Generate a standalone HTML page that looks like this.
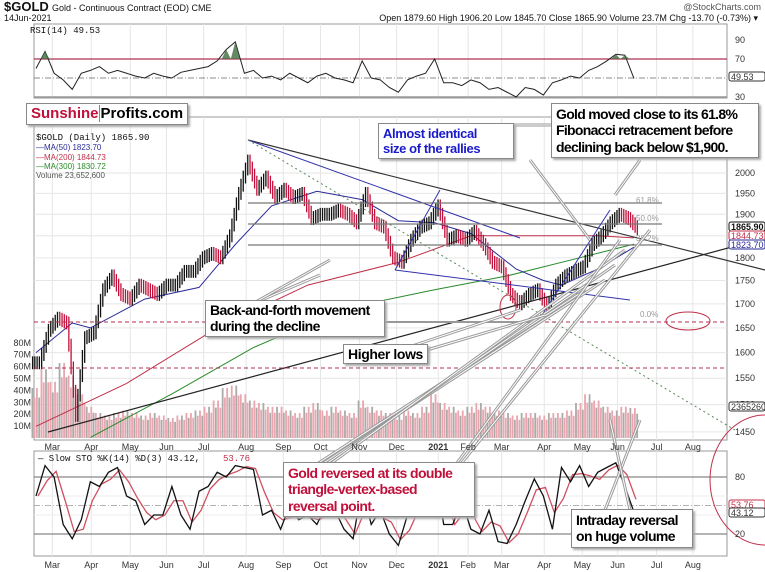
<!DOCTYPE html>
<html><head><meta charset="utf-8">
<style>
body{margin:0;background:#fff;width:765px;height:572px;overflow:hidden;font-family:"Liberation Sans",sans-serif}
svg{display:block}
.box{position:absolute;background:#fff;border:1px solid #888;box-shadow:2px 2px 2px #aaa;font-weight:bold;line-height:1.17;white-space:nowrap;letter-spacing:-0.4px}
</style></head><body>
<svg id="c" width="765" height="572" style="position:absolute;left:0;top:0">
<g id="grid"></g><g id="marks"></g><g id="anno"></g><g id="labels"></g>
</svg>
<div class="box" style="left:26px;top:103px;padding:1px 4px;font-size:15px;letter-spacing:0"><span style="color:#c0103a">Sunshine</span><span style="border-left:1px solid #888;padding-left:1px">Profits.com</span></div>
<div class="box" style="left:378px;top:123px;width:126px;padding:2px 4px;font-size:13px;color:#1a1acc">Almost identical<br>size of the rallies</div>
<div class="box" style="left:551px;top:103px;width:198px;padding:2px 4px;font-size:14px;letter-spacing:-0.7px">Gold moved close to its 61.8%<br>Fibonacci retracement before<br>declining back below $1,900.</div>
<div class="box" style="left:205px;top:300px;width:170px;padding:1px 4px;font-size:14px;letter-spacing:-0.6px">Back-and-forth movement<br>during the decline</div>
<div class="box" style="left:343px;top:344px;padding:1px 4px;font-size:14px">Higher lows</div>
<div class="box" style="left:283px;top:462px;width:182px;padding:2px 4px;font-size:14px;color:#c0103a;letter-spacing:-0.6px">Gold reversed at its double<br>triangle-vertex-based<br>reversal point.</div>
<div class="box" style="left:571px;top:509px;width:112px;padding:2px 4px;font-size:14px;letter-spacing:-0.6px">Intraday reversal<br>on huge volume</div>
<script>
const closes=[1580,1645,1670,1660,1480,1630,1640,1730,1760,1720,1710,1740,1730,1720,1740,1740,1770,1770,1800,1810,1800,1850,1950,2030,1960,1990,1940,1960,1940,1950,1890,1900,1900,1910,1900,1880,1950,1880,1870,1800,1790,1840,1870,1880,1920,1840,1850,1840,1860,1830,1790,1780,1720,1700,1720,1730,1690,1740,1760,1770,1780,1830,1850,1880,1900,1890,1865.9];
const volumes=[40,55,45,60,50,35,25,20,18,20,22,20,18,20,18,16,18,20,22,25,30,40,42,35,30,28,25,25,22,20,25,28,22,25,22,20,30,25,22,20,18,22,20,25,35,28,25,22,25,28,25,22,20,18,20,20,18,20,20,22,28,35,30,25,22,25,24];
const rsi=[60,78,55,48,38,55,58,62,55,58,55,52,50,55,52,50,56,58,60,62,68,80,88,55,58,50,52,48,55,50,45,52,55,50,48,45,68,50,48,40,35,48,52,55,70,45,45,42,48,45,38,40,35,30,40,38,32,45,48,52,50,58,62,68,75,74,49.5];
const stoK=[60,92,80,30,15,35,75,70,85,90,60,55,30,40,40,70,40,25,65,70,85,80,92,90,88,40,45,25,50,35,40,30,50,45,25,15,70,30,45,20,8,40,50,70,90,30,30,55,25,20,45,12,10,30,55,78,60,25,90,75,92,70,85,90,95,70,43];
const ma50W=[0,4,6,12,18,22,26,31,36,40,44,48,53,56,58,62,66];
const ma50V=[1600,1660,1650,1710,1735,1830,1920,1955,1935,1885,1880,1855,1775,1750,1740,1775,1824];
const ma200W=[0,10,20,30,40,48,56,62,66];
const ma200V=[1460,1540,1650,1740,1790,1850,1850,1850,1845];
const ma300W=[6,15,24,34,44,52,60,66];
const ma300V=[1440,1520,1610,1690,1730,1760,1800,1831];
const monthLabels=["Mar","Apr","May","Jun","Jul","Aug","Sep","Oct","Nov","Dec","2021","Feb","Mar","Apr","May","Jun","Jul","Aug"];
const monthWeeks=[1.8,6.1,10.4,14.4,18.5,23.2,27.3,31.4,35.7,39.8,44.4,47.7,51.4,56.1,60.3,64.2,68.5,72.5];
const priceTicks=[2000,1950,1900,1850,1800,1750,1700,1650,1600,1550,1500,1450];
const volTicks=[10,20,30,40,50,60,70,80];
const rsiTicks=[90,70,30];
const stoTicks=[80,20];

const NS="http://www.w3.org/2000/svg";
const X=w=>36+w*9.06;
const PY=p=>173+805*Math.log(2000/p);
const VY=v=>438-v*1.19;
const RY=r=>40+(90-r)*0.95;
const SY=s=>553-s*0.95;
const L=34,R=727;
function mk(parent,tag,attrs,text){const e=document.createElementNS(NS,tag);for(const k in attrs)e.setAttribute(k,attrs[k]);if(text!==undefined)e.textContent=text;document.getElementById(parent).appendChild(e);return e;}
function line(p,x1,y1,x2,y2,st,w,da){return mk(p,'line',{x1,y1,x2,y2,stroke:st,'stroke-width':w||1,'stroke-dasharray':da||'none'});}
function pts(ws,vs,f){return ws.map((w,i)=>X(w).toFixed(1)+','+f(vs[i]).toFixed(1)).join(' ');}

const panels=[[24,98,'rsi-panel'],[117,440,'price-panel'],[451,556,'stochastic-panel']];
panels.forEach(p=>{const r=mk('grid','rect',{x:L,y:p[0],width:R-L,height:p[1]-p[0],fill:'#fff',stroke:'#999'});

});
monthWeeks.forEach(w=>{[[24,98],[117,440],[451,556]].forEach(p=>line('grid',X(w),p[0],X(w),p[1],'#e6e6e6'));});
priceTicks.forEach(t=>line('grid',L,PY(t),R,PY(t),'#e6e6e6'));
[40,60,80].forEach(t=>line('grid',L,SY(t),R,SY(t),'#eee'));
monthLabels.forEach((m,i)=>{
 const a=mk('labels','text',{x:X(monthWeeks[i]),y:450,'font-size':9,'text-anchor':'middle',fill:'#333','font-weight':m==='2021'?'bold':'normal'},m);
 
 
 const b=mk('labels','text',{x:X(monthWeeks[i]),y:568,'font-size':9,'text-anchor':'middle',fill:'#333','font-weight':m==='2021'?'bold':'normal'},m);
 
 
});
priceTicks.forEach(t=>{const e=mk('labels','text',{x:R+8,y:PY(t)+3,'font-size':9,fill:'#333'},t);

});
volTicks.forEach(t=>{const e=mk('labels','text',{x:31,y:VY(t)+3,'font-size':9,fill:'#333','text-anchor':'end'},t+'M');

});
rsiTicks.forEach(t=>{const e=mk('labels','text',{x:R+8,y:RY(t)+3,'font-size':9,fill:'#333'},t);

});
stoTicks.forEach(t=>{const e=mk('labels','text',{x:R+8,y:SY(t)+3,'font-size':9,fill:'#333'},t);

});

volumes.forEach((v,i)=>{
 for(let k=0;k<4;k++){const vv=v*(k%2?0.85:1.05);
 const r=mk('marks','rect',{x:X(i)-4.5+k*2.26,y:VY(vv),width:1.8,height:438-VY(vv),fill:(i+k)%3===0?'#aaa':'#e8a6ae'});
 
 }
});
line('marks',L,RY(70),R,RY(70),'#b03050',1.2);
line('marks',L,RY(50),R,RY(50),'#666',0.8,'6,2,1,2');
line('marks',L,RY(30),R,RY(30),'#999',1.5);
const rsiP=mk('marks','polyline',{points:rsi.map((r,i)=>X(i)+','+RY(r)).join(' '),fill:'none',stroke:'#222','stroke-width':1});


rsi.forEach((r,i)=>{if(r>70){const p=mk('marks','polygon',{points:`${X(i-0.5)},${RY(70)} ${X(i)},${RY(r)} ${X(i+0.5)},${RY(70)}`,fill:'#3d6b3d',opacity:0.8});

}});

[[ma200W,ma200V,'#c0304a','ma200-line'],[ma300W,ma300V,'#2a8a2a','ma300-line'],[ma50W,ma50V,'#2a2a99','ma50-line']].forEach(m=>{
 const p=mk('marks','polyline',{points:pts(m[0],m[1],PY),fill:'none',stroke:m[2],'stroke-width':1});
 
 });
closes.forEach((c,i)=>{const o=i?closes[i-1]:c;const up=c>=o;
 const col=up?'#111':'#c0103a';
 for(let k=0;k<4;k++){const a=o+(c-o)*k/4,b=o+(c-o)*(k+1)/4;const xx=X(i)-3.4+k*2.26;
  const w=mk('marks','line',{x1:xx,y1:PY(Math.max(a,b)*1.008),x2:xx,y2:PY(Math.min(a,b)*0.992),stroke:col,'stroke-width':1.3});
  
  }
});
line('marks',L,SY(80),R,SY(80),'#888',1.3);
line('marks',L,SY(20),R,SY(20),'#888',1.3);
line('marks',L,SY(50),R,SY(50),'#999',0.8,'6,2,1,2');
const stoD=stoK.map((k,i)=>{const a=stoK.slice(Math.max(0,i-1),i+1);return a.reduce((s,v)=>s+v,0)/a.length;});
const dP=mk('marks','polyline',{points:stoD.map((s,i)=>(X(i)+2)+','+SY(s)).join(' '),fill:'none',stroke:'#d05060','stroke-width':1.3});


const kP=mk('marks','polyline',{points:stoK.map((s,i)=>X(i)+','+SY(s)).join(' '),fill:'none',stroke:'#111','stroke-width':1.3});



line('anno',248,140,765,270,'#333',1.2);
line('anno',248,140,520,238,'#3333aa',1);
line('anno',248,140,735,430,'#5a8a5a',1,'2,3');
line('anno',48,432,765,238,'#222',1.2);
line('anno',248,203,662,203,'#777',1.2);
line('anno',248,224,662,224,'#777',1.2);
line('anno',248,245,662,245,'#777',1.2);
line('anno',L,322,R,322,'#b03050',1,'4,3');
line('anno',L,368,R,368,'#b03050',1,'4,3');
line('anno',330,322,540,322,'#999',2);
line('anno',395,270,630,300,'#3333aa',1);
line('anno',395,270,440,190,'#3333aa',1);
line('anno',540,318,610,210,'#3333aa',1);
[['61.8%',203],['50.0%',221],['38.2%',241],['0.0%',317]].forEach(f=>{const e=mk('anno','text',{x:f[0]==='0.0%'?640:636,y:f[1],'font-size':8,fill:'#999'},f[0]);

});
mk('anno','ellipse',{cx:688,cy:321,rx:22,ry:9,fill:'none',stroke:'#c0304a','stroke-width':1});
mk('anno','ellipse',{cx:765,cy:480,rx:55,ry:65,fill:'none',stroke:'#c0304a','stroke-width':1});
mk('anno','ellipse',{cx:508,cy:307,rx:8,ry:12,fill:'none',stroke:'#c0304a','stroke-width':1});
[[300,475,585,290],[305,475,605,280],[310,475,615,265],[315,475,625,250],[460,465,650,230],[430,500,620,240],
 [215,320,320,275],[215,325,330,260],[400,350,520,310],[410,355,545,315],[605,510,640,420],[630,510,610,420],
 [615,195,640,160],[530,160,590,240],[510,125,560,125]].forEach(l=>{
 line('anno',l[0],l[1],l[2],l[3],'#999',3);line('anno',l[0],l[1],l[2],l[3],'#fff',1);});

const T=(x,y,s,t,o)=>{const e=mk('labels','text',Object.assign({x,y,'font-size':s,fill:'#111'},o||{}),t);return e;};
T(4,11,13,'$GOLD',{'font-weight':'bold'});
T(52,11,9,'Gold - Continuous Contract (EOD) CME');
T(4,21,9,'14Jun-2021');
T(761,10,9,'@StockCharts.com',{'text-anchor':'end',fill:'#555'});
T(758,21,9,'Open 1879.60  High 1906.20  Low 1845.70  Close 1865.90  Volume 23.7M  Chg -13.70 (-0.73%) ▾',{'text-anchor':'end'});
T(30,33,9,'RSI(14) 49.53',{'font-family':'Liberation Mono'});
T(36,140,9,'$GOLD (Daily) 1865.90',{'font-family':'Liberation Mono'});
T(36,150,8,'—MA(50) 1823.70',{fill:'#2a2a99'});
T(36,160,8,'—MA(200) 1844.73',{fill:'#c0304a'});
T(36,169,8,'—MA(300) 1830.72',{fill:'#2a8a2a'});
T(36,178,8,'Volume 23,652,600',{fill:'#555'});
T(38,461,9,'— Slow STO %K(14) %D(3) 43.12,',{'font-family':'Liberation Mono'});
T(223,461,9,'53.76',{'font-family':'Liberation Mono',fill:'#c0304a'});
[[229,'1865.90','#111',true],[238,'1844.73','#c0304a'],[247,'1823.70','#2a2a99'],[409,'2365260','#333'],[79,'49.53','#333'],[507,'53.76','#c0304a'],[515,'43.12','#333']].forEach(t=>{
 mk('labels','rect',{x:729,y:t[0]-7,width:36,height:9,fill:'#fff',stroke:t[2],rx:2});
 T(731,t[0]+1,9,t[1],{fill:t[2],'font-weight':t[3]?'bold':'normal'});});
</script>
</body></html>
